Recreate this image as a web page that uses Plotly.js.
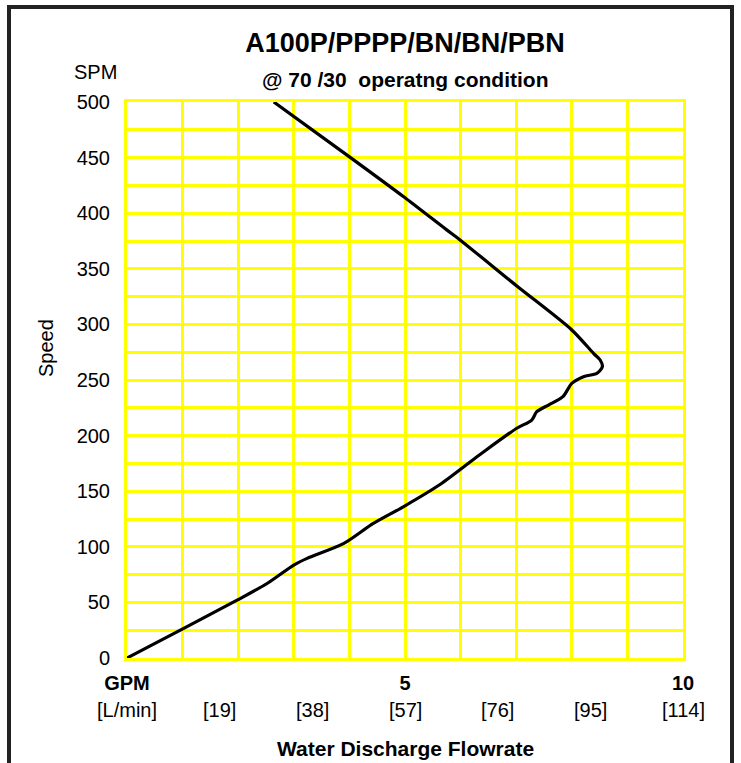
<!DOCTYPE html>
<html>
<head>
<meta charset="utf-8">
<script src="https://cdn.plot.ly/plotly-3.0.1.min.js"></script>
<style>
  html, body { margin: 0; padding: 0; background: #fff; }
  #wrap { position: relative; width: 741px; height: 763px; overflow: hidden; }
  #frame { position: absolute; left: 7px; top: 5px; width: 727px; height: 800px;
           box-sizing: border-box; border: 4px solid #222; border-bottom: none; pointer-events: none; }
  #chart { position: absolute; left: 0; top: 0; width: 741px; height: 763px; }
</style>
</head>
<body>
<div id="wrap">
  <div id="chart"></div>
  <div id="frame"></div>
</div>
<script>
// Curve: flow (GPM) vs speed (SPM)
const flowGPM = [2.64, 4.02, 4.97, 5.75, 5.99, 7.00, 8.00, 8.39, 8.51, 8.55, 8.45, 8.21, 8.00, 7.84, 7.58, 7.37, 7.28, 7.01, 6.35, 5.63, 4.97, 4.43, 3.90, 3.24, 3.00, 2.52, 1.98, 1.02, 0.00];
const speedSPM = [500, 450, 415, 385, 376, 335, 295, 274, 268, 262, 256, 253, 247, 235, 227.5, 221.5, 214, 206.6, 183, 156, 136, 121, 103, 89.6, 83.6, 67, 52, 26.7, 0];

// Axis ticks
const gpmTicks = [0, 1, 2, 3, 4, 5, 6, 7, 8, 9, 10];
const gpmTickText = ['GPM', '', '', '', '', '5', '', '', '', '', '10'];
const spmTicks = [0, 25, 50, 75, 100, 125, 150, 175, 200, 225, 250, 275, 300, 325, 350, 375, 400, 425, 450, 475, 500];
const spmTickText = ['0', '', '50', '', '100', '', '150', '', '200', '', '250', '', '300', '', '350', '', '400', '', '450', '', '500'];
const lpmLabels = ['[L/min]', '[19]', '[38]', '[57]', '[76]', '[95]', '[114]'];
const lpmValues = [0, 19, 38, 57, 76, 95, 114];
const lpmPerGpm = 11.4; // chart places 114 L/min at 10 GPM

const titleText = 'A100P/PPPP/BN/BN/PBN';
const subtitleText = '@ 70 /30  operatng condition';

const FONT = 'Arial, "Liberation Sans", sans-serif';
const YEL = '#FFFF00';

const trace = {
  x: flowGPM, y: speedSPM, type: 'scatter', mode: 'lines',
  line: { color: '#000', width: 3.2, shape: 'spline', smoothing: 0.8 },
  hoverinfo: 'skip', showlegend: false
};

const annotations = lpmValues.map((v, i) => ({
  x: v / lpmPerGpm, xref: 'x', y: -0.0935, yref: 'paper',
  text: lpmLabels[i], showarrow: false, xanchor: 'center', yanchor: 'middle',
  font: { family: FONT, size: 20, color: '#000' }
}));
annotations.push({
  x: 0.5, xref: 'paper', y: 1.040, yref: 'paper', text: '<b>' + subtitleText + '</b>',
  showarrow: false, xanchor: 'center', yanchor: 'middle',
  font: { family: FONT, size: 21, color: '#000' }
});
annotations.push({
  x: -0.056, xref: 'paper', y: 1.054, yref: 'paper', text: 'SPM',
  showarrow: false, xanchor: 'center', yanchor: 'middle',
  font: { family: FONT, size: 20, color: '#000' }
});
annotations.push({
  x: -0.147, xref: 'paper', y: 0.558, yref: 'paper', text: 'Speed', textangle: -90,
  showarrow: false, xanchor: 'center', yanchor: 'middle',
  font: { family: FONT, size: 20, color: '#000' }
});
annotations.push({
  x: 0.5, xref: 'paper', y: -0.162, yref: 'paper', text: '<b>Water Discharge Flowrate</b>',
  showarrow: false, xanchor: 'center', yanchor: 'middle',
  font: { family: FONT, size: 21, color: '#000' }
});

const layout = {
  width: 741, height: 763,
  margin: { l: 127, r: 58, t: 102, b: 105 },
  paper_bgcolor: '#fff', plot_bgcolor: '#fff',
  title: {
    text: '<b>' + titleText + '</b>', x: 0.5, xref: 'paper', xanchor: 'center',
    y: 1 - 43 / 763, yref: 'container', yanchor: 'middle',
    font: { family: FONT, size: 27, color: '#000' }
  },
  xaxis: {
    range: [0, 10], tickmode: 'array', tickvals: gpmTicks,
    ticktext: gpmTickText.map(t => t ? '<b>' + t + '</b>' : ''),
    tickfont: { family: FONT, size: 20, color: '#000' },
    showgrid: true, gridcolor: YEL, gridwidth: 3, zeroline: false,
    showline: true, linecolor: YEL, linewidth: 3, mirror: true,
    ticks: '', ticklabelstandoff: 5, fixedrange: true
  },
  yaxis: {
    range: [0, 500], tickmode: 'array', tickvals: spmTicks, ticktext: spmTickText,
    tickfont: { family: FONT, size: 20, color: '#000' },
    showgrid: true, gridcolor: YEL, gridwidth: 3, zeroline: false,
    showline: true, linecolor: YEL, linewidth: 3, mirror: true,
    ticks: '', ticklabelstandoff: 10, fixedrange: true
  },
  annotations: annotations
};

Plotly.newPlot('chart', [trace], layout, { displayModeBar: false, staticPlot: true });
</script>
</body>
</html>
